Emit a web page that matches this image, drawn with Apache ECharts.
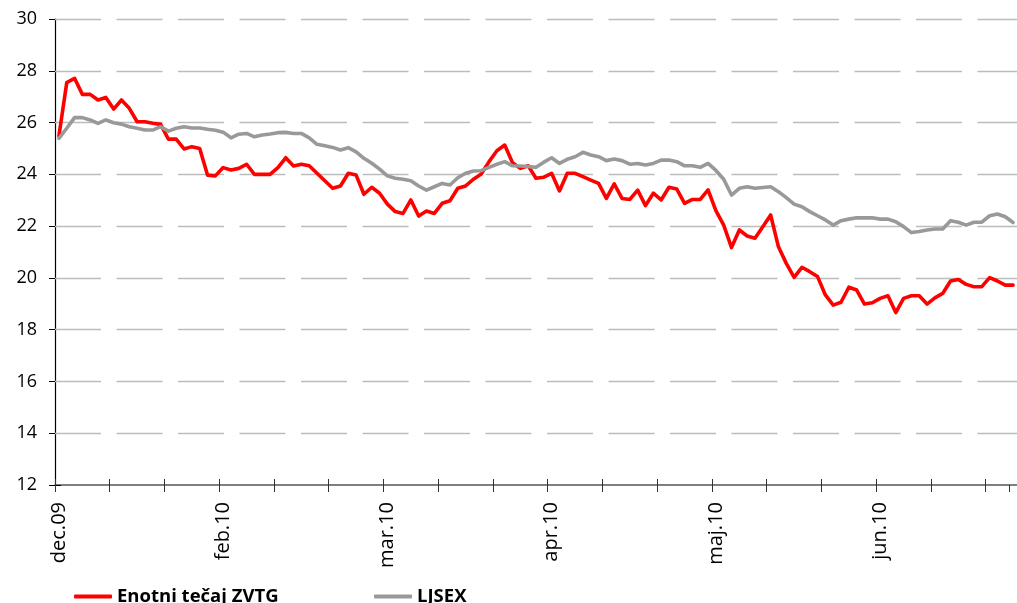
<!DOCTYPE html>
<html>
<head>
<meta charset="utf-8">
<script src="https://cdn.jsdelivr.net/npm/echarts@6/dist/echarts.min.js"></script>
<style>html,body{margin:0;padding:0;background:#fff;}#c{width:1017px;height:603px;}</style>
</head>
<body>
<div id="c"></div>
<script>
// Category labels shown on the axis, and the index of the category they sit on
const tickLabels = ['dec.09', 'feb.10', 'mar.10', 'apr.10', 'maj.10', 'jun.10'];
const tickLabelIndex = [0, 21, 42, 63, 84, 105];
// Horizontal gridline values (y axis ticks above the baseline)
const gridValues = [14, 16, 18, 20, 22, 24, 26, 28, 30];

const seriesNames = ['Enotni tečaj ZVTG', 'LJSEX'];

const zvtg = [25.48,27.54,27.71,27.09,27.09,26.87,26.97,26.52,26.87,26.55,
26.03,26.03,25.97,25.93,25.36,25.36,24.98,25.07,25.00,23.97,
23.94,24.26,24.17,24.23,24.39,24.00,24.00,24.00,24.26,24.64,
24.32,24.39,24.33,24.04,23.75,23.46,23.55,24.04,23.97,23.23,
23.50,23.27,22.85,22.56,22.49,23.01,22.39,22.58,22.49,22.88,
22.98,23.46,23.55,23.81,24.01,24.49,24.91,25.13,24.45,24.23,
24.33,23.85,23.89,24.04,23.36,24.04,24.04,23.91,23.78,23.65,
23.07,23.63,23.07,23.03,23.39,22.79,23.27,23.01,23.50,23.43,
22.88,23.03,23.03,23.40,22.60,22.04,21.17,21.85,21.62,21.53,
21.98,22.43,21.20,20.56,20.02,20.41,20.24,20.05,19.34,18.95,
19.06,19.64,19.53,18.99,19.04,19.21,19.31,18.66,19.21,19.31,
19.31,18.99,19.23,19.40,19.88,19.94,19.75,19.66,19.66,20.01,
19.88,19.72,19.72];

const ljsex = [25.39,25.78,26.19,26.19,26.10,25.97,26.10,25.99,25.94,25.84,
25.78,25.71,25.71,25.84,25.67,25.78,25.84,25.79,25.79,25.74,
25.70,25.63,25.41,25.55,25.58,25.45,25.52,25.56,25.61,25.62,
25.58,25.58,25.41,25.16,25.10,25.04,24.94,25.03,24.87,24.62,
24.43,24.20,23.94,23.85,23.81,23.75,23.55,23.39,23.52,23.65,
23.59,23.87,24.04,24.13,24.14,24.27,24.39,24.49,24.33,24.32,
24.30,24.27,24.47,24.64,24.42,24.58,24.68,24.85,24.75,24.68,
24.53,24.59,24.53,24.39,24.42,24.36,24.42,24.55,24.55,24.49,
24.33,24.33,24.27,24.42,24.15,23.81,23.20,23.46,23.52,23.46,
23.49,23.52,23.33,23.10,22.85,22.75,22.56,22.40,22.24,22.04,
22.21,22.27,22.32,22.32,22.32,22.27,22.27,22.17,21.98,21.75,
21.79,21.85,21.89,21.89,22.21,22.15,22.04,22.15,22.15,22.40,
22.47,22.36,22.14];

const categories = zvtg.map((v, i) => String(i));
const labelFor = (val) => {
  const k = tickLabelIndex.indexOf(Number(val));
  return k >= 0 ? tickLabels[k] : '';
};

const gridStyle = {color: '#bcbcbc', width: 1.4, type: [46, 15.5], dashOffset: 0, opacity: 1};

const FONT = 'Open Sans';
const chart = echarts.init(document.getElementById('c'), null, {renderer: 'canvas'});
chart.setOption({
  animation: false,
  backgroundColor: '#ffffff',
  grid: {left: 55, right: 0, top: 19, bottom: 118, containLabel: false},
  legend: [
    {data: [seriesNames[0]], left: 69, top: 582, padding: 5, icon: 'roundRect', itemWidth: 38, itemHeight: 4, itemGap: 6,
     textStyle: {fontFamily: FONT, fontSize: 18.5, fontWeight: 'bold', color: '#000'}},
    {data: [seriesNames[1]], left: 369, top: 582, padding: 5, icon: 'roundRect', itemWidth: 38, itemHeight: 4, itemGap: 6,
     textStyle: {fontFamily: FONT, fontSize: 18.5, fontWeight: 'bold', color: '#000'}}
  ],
  xAxis: [
    {type: 'category', data: categories, boundaryGap: true,
     axisLine: {show: true, lineStyle: {color: '#555', width: 1.5}},
     axisTick: {show: true, interval: 6, length: 7, lineStyle: {color: '#333', width: 1}},
     axisLabel: {interval: 0, rotate: 90, margin: 17, fontFamily: FONT, fontSize: 20, color: '#000', formatter: labelFor},
     splitLine: {show: false}},
    {type: 'category', data: categories, boundaryGap: true, position: 'bottom',
     axisLine: {show: false},
     axisTick: {show: true, inside: true, interval: 6, length: 6, lineStyle: {color: '#333', width: 1}},
     axisLabel: {show: false}, splitLine: {show: false}}
  ],
  yAxis: [
    {type: 'value', min: 12, max: 30, interval: 2,
     axisLine: {show: true, lineStyle: {color: '#000', width: 1.2}},
     axisTick: {show: true, length: 6, lineStyle: {color: '#000', width: 1}},
     axisLabel: {margin: 18, fontFamily: FONT, fontSize: 18, color: '#000'},
     splitLine: {show: false}},
    {type: 'value', min: 12, max: 30, interval: 2, position: 'left',
     axisLine: {show: false},
     axisTick: {show: true, inside: true, length: 6, lineStyle: {color: '#000', width: 1}},
     axisLabel: {show: false}, splitLine: {show: false}}
  ],
  series: [
    {name: seriesNames[0], type: 'line', data: zvtg, showSymbol: false, symbol: 'none', z: 3,
     itemStyle: {color: '#ff0000'},
     lineStyle: {color: '#ff0000', width: 3.6, join: 'round', cap: 'round'},
     markLine: {symbol: 'none', silent: true, z: 1, label: {show: false}, emphasis: {disabled: true},
       lineStyle: gridStyle,
       data: gridValues.map(v => ({yAxis: v, lineStyle: gridStyle}))}},
    {name: seriesNames[1], type: 'line', data: ljsex, showSymbol: false, symbol: 'none', z: 4,
     itemStyle: {color: '#999999'},
     lineStyle: {color: '#999999', width: 3.6, join: 'round', cap: 'round'}}
  ]
});
</script>
</body>
</html>
